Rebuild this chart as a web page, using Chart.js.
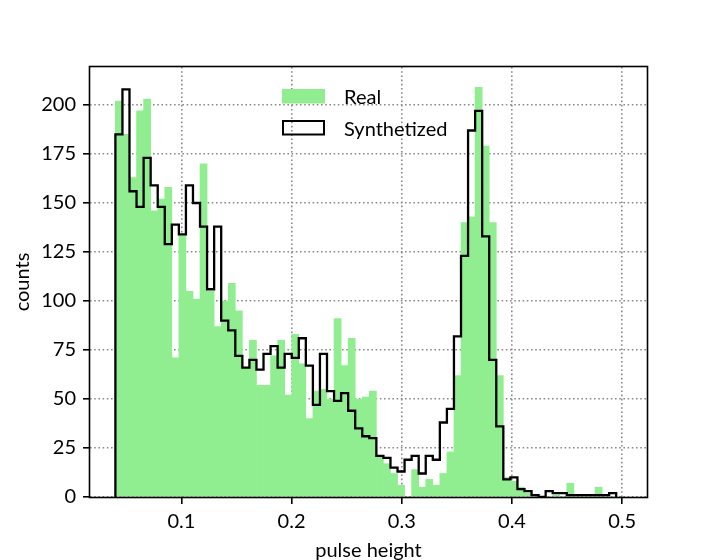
<!DOCTYPE html>
<html>
<head>
<meta charset="utf-8">
<script src="https://cdn.jsdelivr.net/npm/chart.js@4.4.0/dist/chart.umd.min.js"></script>
<style>
  html, body { margin: 0; padding: 0; background: #fff; }
  #wrap { width: 720px; height: 560px; }
</style>
</head>
<body>
<div id="wrap"><canvas id="histChart" width="720" height="560"></canvas></div>
<script>
// histogram bins (pulse height)
const binStart = 0.04014;
const binWidth = 0.0064;

const realCounts = [
    202, 185, 163, 197, 203, 146, 152, 158, 71, 134,
    105, 101, 170, 105, 87, 100, 109, 95, 66, 80,
    57, 57, 72, 80, 52, 83, 68, 40, 54, 55,
    50, 91, 67, 81, 50, 51, 54, 21, 17, 12,
    6, 0, 14, 5, 9, 6, 12, 23, 62, 140,
    143, 209, 179, 140, 62, 10, 8, 5, 2, 0,
    0, 0, 1, 0, 7, 0, 0, 0, 5, 0, 0
];

const synthCounts = [
    185, 208, 156, 148, 173, 159, 148, 129, 139, 134,
    159, 150, 138, 106, 138, 90, 85, 72, 66, 70,
    65, 73, 77, 66, 73, 71, 81, 67, 47, 73,
    54, 49, 53, 44, 35, 31, 30, 21, 20, 15,
    13, 19, 21, 12, 21, 19, 38, 45, 82, 123,
    187, 197, 133, 70, 36, 9, 10, 4, 3, 1,
    0, 3, 2, 2, 1, 1, 1, 1, 1, 1, 2
];

const xTicks = [0.1, 0.2, 0.3, 0.4, 0.5];
const yTicks = [0, 25, 50, 75, 100, 125, 150, 175, 200];

const edges = [];
for (let i = 0; i <= realCounts.length; i++) {
    edges.push(binStart + i * binWidth);
}

const realData = realCounts.map((v, i) => ({ x: edges[i] + binWidth / 2, y: v }));

// step outline: up from 0 at the first edge, down to 0 at the last edge
const synthData = [{ x: edges[0], y: 0 }];
synthCounts.forEach((v, i) => synthData.push({ x: edges[i], y: v }));
synthData.push({ x: edges[synthCounts.length], y: 0 });

const FONT = 'Lato';
Chart.defaults.font.family = FONT;
Chart.defaults.font.size = 20;
Chart.defaults.color = '#000';

const gridColor = '#8a8a8a';
const gridDash = [1.6, 2.6];

// axes frame (all four spines)
const frame = {
    id: 'frame',
    afterDatasetsDraw(chart) {
        const { ctx, chartArea: a } = chart;
        ctx.save();
        ctx.strokeStyle = '#000';
        ctx.lineWidth = 1.6;
        ctx.strokeRect(Math.round(a.left) - 0.5, Math.round(a.top) - 0.5,
            Math.round(a.right - a.left) + 1, Math.round(a.bottom - a.top) + 1);
        ctx.restore();
    }
};

// legend inside the axes, no frame
const insideLegend = {
    id: 'insideLegend',
    afterDraw(chart) {
        const ctx = chart.ctx;
        const x0 = 282, x1 = 325, textX = 344;
        ctx.save();
        ctx.font = '20px ' + FONT;
        ctx.textBaseline = 'alphabetic';
        chart.data.datasets.forEach((ds, i) => {
            const base = 104 + i * 31.5;
            if (ds.type === 'line') {
                ctx.strokeStyle = ds.borderColor;
                ctx.lineWidth = 2;
                ctx.strokeRect(x0 + 1, base - 14.5, x1 - x0 - 2, 13.5);
            } else {
                ctx.fillStyle = ds.backgroundColor;
                ctx.fillRect(x0, base - 15, x1 - x0, 14.5);
            }
            ctx.fillStyle = '#000';
            ctx.fillText(ds.label, textX, base);
        });
        ctx.restore();
    }
};

const ctx = document.getElementById('histChart').getContext('2d');
const histChart = new Chart(ctx, {
    type: 'bar',
    data: {
        datasets: [{
            label: 'Real',
            data: realData,
            backgroundColor: '#90ee90',
            borderWidth: 0,
            barPercentage: 1,
            categoryPercentage: 1,
            order: 1
        }, {
            type: 'line',
            label: 'Synthetized',
            data: synthData,
            stepped: 'before',
            borderColor: '#000',
            borderWidth: 2.3,
            borderJoinStyle: 'miter',
            backgroundColor: 'rgba(0,0,0,0)',
            fill: false,
            pointRadius: 0,
            order: 0
        }]
    },
    options: {
        responsive: false,
        animation: false,
        events: [],
        layout: {
            padding: { top: 67, right: 73, left: 0, bottom: 0 }
        },
        plugins: {
            legend: { display: false },
            tooltip: { enabled: false }
        },
        scales: {
            x: {
                type: 'linear',
                offset: false,
                min: 0.0171,
                max: 0.5225,
                afterBuildTicks: scale => {
                    scale.ticks = xTicks.map(v => ({ value: v }));
                },
                afterFit: scale => { scale.height = 63; },
                ticks: {
                    padding: 6,
                    maxRotation: 0,
                    callback: v => v.toFixed(1)
                },
                grid: {
                    offset: false,
                    color: gridColor,
                    lineWidth: 1.6,
                    tickLength: 7,
                    tickColor: '#000',
                    tickWidth: 1.6,
                    tickBorderDash: []
                },
                border: { display: false, dash: gridDash },
                title: {
                    display: true,
                    text: 'pulse height',
                    padding: { top: 0, bottom: -3 }
                }
            },
            y: {
                min: 0,
                max: 219.4,
                afterBuildTicks: scale => {
                    scale.ticks = yTicks.map(v => ({ value: v }));
                },
                afterFit: scale => { scale.width = 90; },
                ticks: { padding: 7 },
                grid: {
                    color: gridColor,
                    lineWidth: 1.6,
                    tickLength: 7,
                    tickColor: '#000',
                    tickWidth: 1.6,
                    tickBorderDash: []
                },
                border: { display: false, dash: gridDash },
                title: {
                    display: true,
                    text: 'counts',
                    padding: { top: 11, bottom: 0 }
                }
            }
        }
    },
    plugins: [frame, insideLegend]
});
</script>
</body>
</html>
